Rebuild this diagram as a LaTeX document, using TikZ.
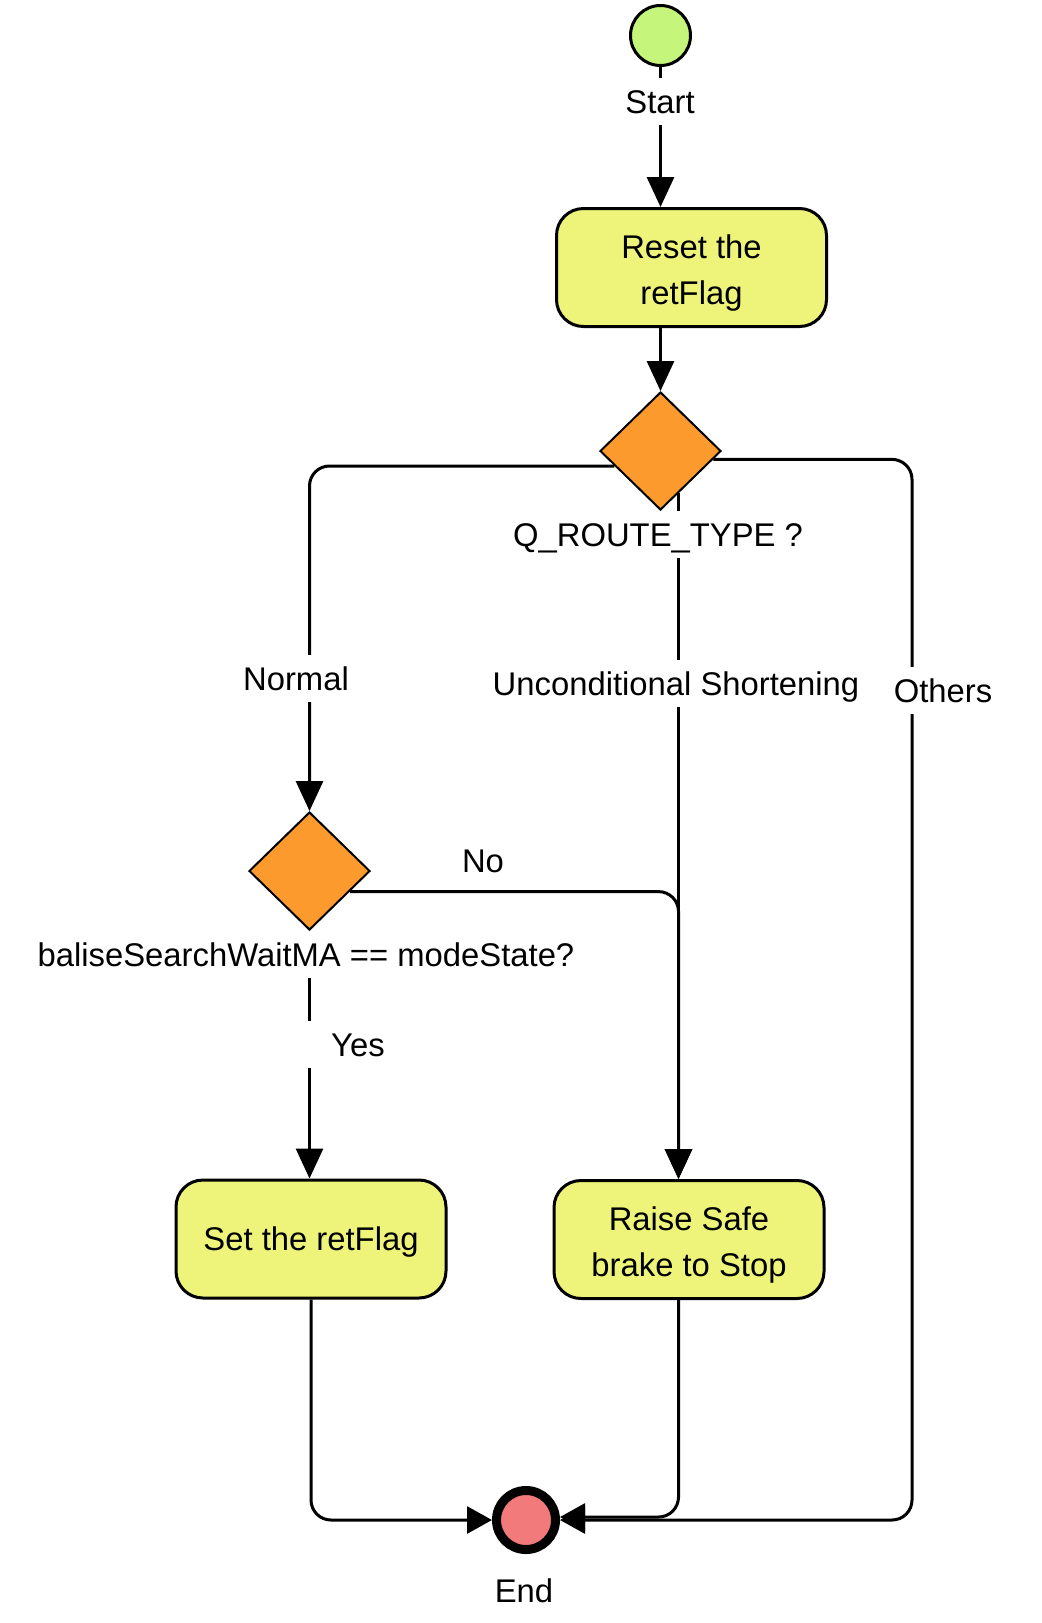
\documentclass[tikz,border=0pt]{standalone}
\usepackage{fontspec}
\setmainfont{Liberation Sans}
\usetikzlibrary{shapes.geometric,arrows.meta}

\definecolor{startgreen}{RGB}{197,245,122}
\definecolor{actyellow}{RGB}{238,244,122}
\definecolor{decorange}{RGB}{253,154,46}
\definecolor{endred}{RGB}{243,122,122}

\begin{document}
\begin{tikzpicture}[x=0.5pt, y=-0.5pt,
      every node/.style={font=\fontsize{16.4pt}{23pt}\selectfont},
      action/.style={draw, line width=1.5pt, fill=actyellow, rounded corners=13.5pt,
                     minimum width=135pt, minimum height=59pt, align=center, inner sep=0pt},
      decision/.style={diamond, draw, line width=1pt, fill=decorange, inner sep=0pt,
                       minimum width=60.5pt, minimum height=59pt},
      flow/.style={line width=1.5pt, -{Triangle[length=15pt,width=13.5pt]}},
      endflow/.style={line width=1.5pt, -{Triangle[length=12.5pt,width=13.5pt]}},
      lbl/.style={fill=white, inner sep=2.5pt, text height=15pt, text depth=3.6pt, anchor=base}
     ]
    \useasboundingbox (0,0) rectangle (1041,1623);

    \node[circle, draw, line width=1.5pt, fill=startgreen, minimum size=30pt, inner sep=0pt] (start) at (660.5,35.5) {};
    \node[action] (reset) at (691.5,267.5) {\rule{0pt}{17pt}Reset the\\retFlag};
    \node[decision] (q) at (660.5,451) {};
    \node[decision] (cond) at (309.5,871) {};
    \node[action, text depth=0pt] (set) at (311,1239) {Set the retFlag};
    \node[action] (raise) at (689,1239.5) {\rule{0pt}{17pt}Raise Safe\\brake to Stop};
    \node[circle, draw, line width=4.5pt, fill=endred, minimum size=29.5pt, inner sep=0pt] (endn) at (526,1520) {};
    \coordinate (othcorner) at (912,1520);

    \draw[flow] (start.south) -- (start.south |- reset.north);
    \draw[flow] (q |- reset.south) -- (q.north);
    \draw[flow, rounded corners=10pt] (q.198.4) -| (cond.north);
    \draw[flow] (q.293.5) -- (q.293.5 |- raise.north);
    \draw[flow, rounded corners=10pt] (cond.333.4) -| (q.293.5 |- raise.north);
    \draw[endflow, rounded corners=10pt] (q.351.3) -| (othcorner) -- (endn.east);
    \draw[flow] (cond.south) -- (cond.south |- set.north);
    \draw[endflow, rounded corners=10pt] (set.south) |- (endn.west);
    \draw[endflow, rounded corners=10pt] (q.293.5 |- raise.south) |- ([yshift=1.5pt]endn.east);

    \node[lbl] (startlbl) at (660,113) {Start};
    \node[lbl] (qlbl) at (658,546) {Q\_ROUTE\_TYPE ?};
    \node[lbl] (normlbl) at (296,690) {Normal};
    \node[lbl] (unclbl) at (676,695) {Unconditional Shortening};
    \node[lbl] (othlbl) at (943,702) {Others};
    \node[lbl] (nolbl) at (483,872) {No};
    \node[lbl] (condlbl) at (306,966) {baliseSearchWaitMA == modeState?};
    \node[lbl, minimum width=58pt] (yeslbl) at (358,1056) {Yes};
    \node[lbl] (endlbl) at (524,1602) {End};
\end{tikzpicture}
\end{document}
